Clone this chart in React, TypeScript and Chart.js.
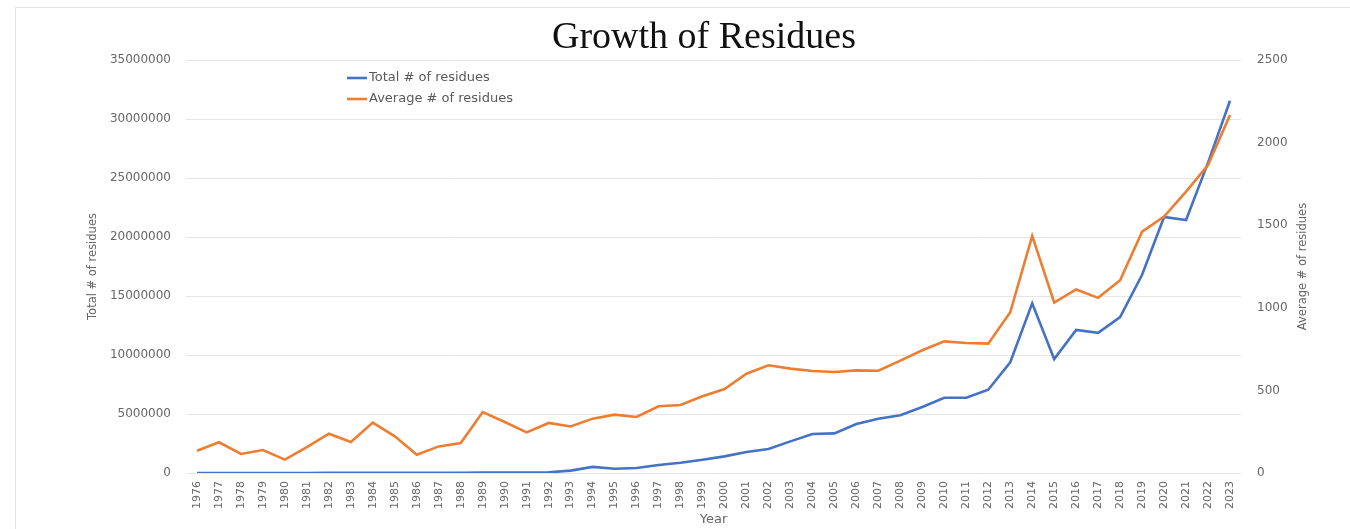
import { useEffect, useRef } from "react";
import { Chart, registerables } from "chart.js";

Chart.register(...registerables);

// Deposition years on the category axis
const YEARS: string[] = [
  "1976", "1977", "1978", "1979", "1980", "1981", "1982", "1983", "1984", "1985",
  "1986", "1987", "1988", "1989", "1990", "1991", "1992", "1993", "1994", "1995",
  "1996", "1997", "1998", "1999", "2000", "2001", "2002", "2003", "2004", "2005",
  "2006", "2007", "2008", "2009", "2010", "2011", "2012", "2013", "2014", "2015",
  "2016", "2017", "2018", "2019", "2020", "2021", "2022", "2023",
];

// Total number of residues released per year (left axis)
const TOTAL_RESIDUES: number[] = [
  2000, 3000, 3000, 4000, 4000, 6000, 9000, 10000, 15000, 14000,
  10000, 17000, 22000, 35000, 38000, 40000, 60000, 200000, 520000, 360000,
  420000, 680000, 870000, 1130000, 1410000, 1780000, 2030000, 2680000, 3300000, 3360000,
  4150000, 4600000, 4900000, 5600000, 6380000, 6380000, 7060000, 9380000, 14380000, 9660000,
  12130000, 11880000, 13220000, 16800000, 21700000, 21440000, 26300000, 31550000,
];

// Average number of residues per entry (right axis)
const AVERAGE_RESIDUES: number[] = [
  135, 186, 115, 139, 81, 157, 238, 188, 305, 222,
  111, 161, 182, 369, 309, 246, 303, 282, 329, 353,
  339, 404, 412, 464, 508, 601, 652, 632, 617, 611,
  621, 619, 680, 743, 797, 787, 783, 973, 1435, 1032,
  1111, 1060, 1167, 1461, 1552, 1703, 1864, 2167,
];

const SERIES_LABELS: string[] = ["Total # of residues", "Average # of residues"];
const SERIES_COLORS: string[] = ["#4472C4", "#ED7D31"];

const CHART_TITLE = "Growth of Residues";
const X_TITLE = "Year";
const LEFT_TITLE = "Total # of residues";
const RIGHT_TITLE = "Average # of residues";

// Axis ranges and tick spacing
const LEFT_RANGE: number[] = [0, 35000000, 5000000];
const RIGHT_RANGE: number[] = [0, 2500, 500];

const SANS = "'DejaVu Sans', sans-serif";
const TEXT_GRAY = "#666666";
const GRID_GRAY = "#e6e6e6";

// Draws the chart title, the legend inside the plot and the right axis title
const decorations = {
  id: "decorations",
  afterDraw(chart: Chart) {
    const { ctx, chartArea } = chart;
    ctx.save();

    // Title
    ctx.fillStyle = "#111111";
    ctx.font = "38px 'Liberation Serif', serif";
    ctx.textAlign = "center";
    ctx.textBaseline = "alphabetic";
    ctx.fillText(CHART_TITLE, 704, 48);

    // Legend
    ctx.font = `13px ${SANS}`;
    ctx.textAlign = "left";
    ctx.textBaseline = "middle";
    chart.data.datasets.forEach((ds: any, i: number) => {
      const y = chartArea.top + 18 + i * 21;
      const x = chartArea.left + 161;
      ctx.strokeStyle = ds.borderColor;
      ctx.lineWidth = 2.6;
      ctx.beginPath();
      ctx.moveTo(x, y);
      ctx.lineTo(x + 20, y);
      ctx.stroke();
      ctx.fillStyle = "#595959";
      ctx.fillText(ds.label, x + 22, y);
    });

    // Right axis title, reading bottom to top
    const right = chart.scales.y1;
    ctx.font = `11.5px ${SANS}`;
    ctx.fillStyle = TEXT_GRAY;
    ctx.textAlign = "center";
    ctx.textBaseline = "middle";
    ctx.translate(right.left + 62, (chartArea.top + chartArea.bottom) / 2);
    ctx.rotate(-Math.PI / 2);
    ctx.fillText(RIGHT_TITLE, 0, 0);

    ctx.restore();
  },
};

export default function App() {
  const canvasRef = useRef<HTMLCanvasElement | null>(null);

  useEffect(() => {
    const canvas = canvasRef.current;
    if (!canvas) return;

    const chart = new Chart(canvas, {
      type: "line",
      data: {
        labels: YEARS,
        datasets: [
          {
            label: SERIES_LABELS[0],
            data: TOTAL_RESIDUES,
            borderColor: SERIES_COLORS[0],
            backgroundColor: SERIES_COLORS[0],
            borderWidth: 2.6,
            pointRadius: 0,
            tension: 0,
            yAxisID: "y",
            order: 2,
          },
          {
            label: SERIES_LABELS[1],
            data: AVERAGE_RESIDUES,
            borderColor: SERIES_COLORS[1],
            backgroundColor: SERIES_COLORS[1],
            borderWidth: 2.6,
            pointRadius: 0,
            tension: 0,
            yAxisID: "y1",
            order: 1,
          },
        ],
      },
      options: {
        responsive: false,
        animation: false,
        devicePixelRatio: 1,
        layout: { padding: { left: 86, top: 60, right: 0, bottom: 0 } },
        plugins: {
          legend: { display: false },
          title: { display: false },
          tooltip: { enabled: false },
        },
        scales: {
          x: {
            type: "category",
            offset: true,
            grid: { display: false, drawTicks: false },
            border: { display: false },
            ticks: {
              autoSkip: false,
              minRotation: 90,
              maxRotation: 90,
              padding: 8,
              color: TEXT_GRAY,
              font: { family: SANS, size: 11 },
            },
            title: {
              display: true,
              text: X_TITLE,
              color: TEXT_GRAY,
              font: { family: SANS, size: 13 },
              padding: { top: 0, bottom: 2 },
            },
            afterFit(scale: any) {
              scale.height = 56;
            },
          },
          y: {
            position: "left",
            min: LEFT_RANGE[0],
            max: LEFT_RANGE[1],
            grid: { color: GRID_GRAY, lineWidth: 1, drawTicks: false },
            border: { display: false },
            ticks: {
              stepSize: LEFT_RANGE[2],
              padding: 15,
              color: TEXT_GRAY,
              font: { family: SANS, size: 12 },
              callback: (v: any) => String(v),
            },
            title: {
              display: true,
              text: LEFT_TITLE,
              color: TEXT_GRAY,
              font: { family: SANS, size: 11.5 },
              padding: { top: 0, bottom: 0 },
            },
            afterFit(scale: any) {
              scale.width = 100;
            },
          },
          y1: {
            position: "right",
            min: RIGHT_RANGE[0],
            max: RIGHT_RANGE[1],
            grid: { display: false, drawTicks: false },
            border: { display: false },
            ticks: {
              stepSize: RIGHT_RANGE[2],
              padding: 16,
              color: TEXT_GRAY,
              font: { family: SANS, size: 12 },
              callback: (v: any) => String(v),
            },
            afterFit(scale: any) {
              scale.width = 109;
            },
          },
        },
      },
      plugins: [decorations],
    });

    return () => chart.destroy();
  }, []);

  return (
    <div style={{ position: "absolute", left: 0, top: 0, width: 1350, height: 529, background: "#ffffff" }}>
      <div
        style={{
          position: "absolute",
          left: 15,
          top: 7,
          width: 1335,
          height: 522,
          boxSizing: "border-box",
          borderLeft: "1px solid #e3e3e3",
          borderTop: "1px solid #e3e3e3",
        }}
      />
      <canvas
        ref={canvasRef}
        width={1350}
        height={529}
        style={{ position: "absolute", left: 0, top: 0, display: "block" }}
      />
    </div>
  );
}
